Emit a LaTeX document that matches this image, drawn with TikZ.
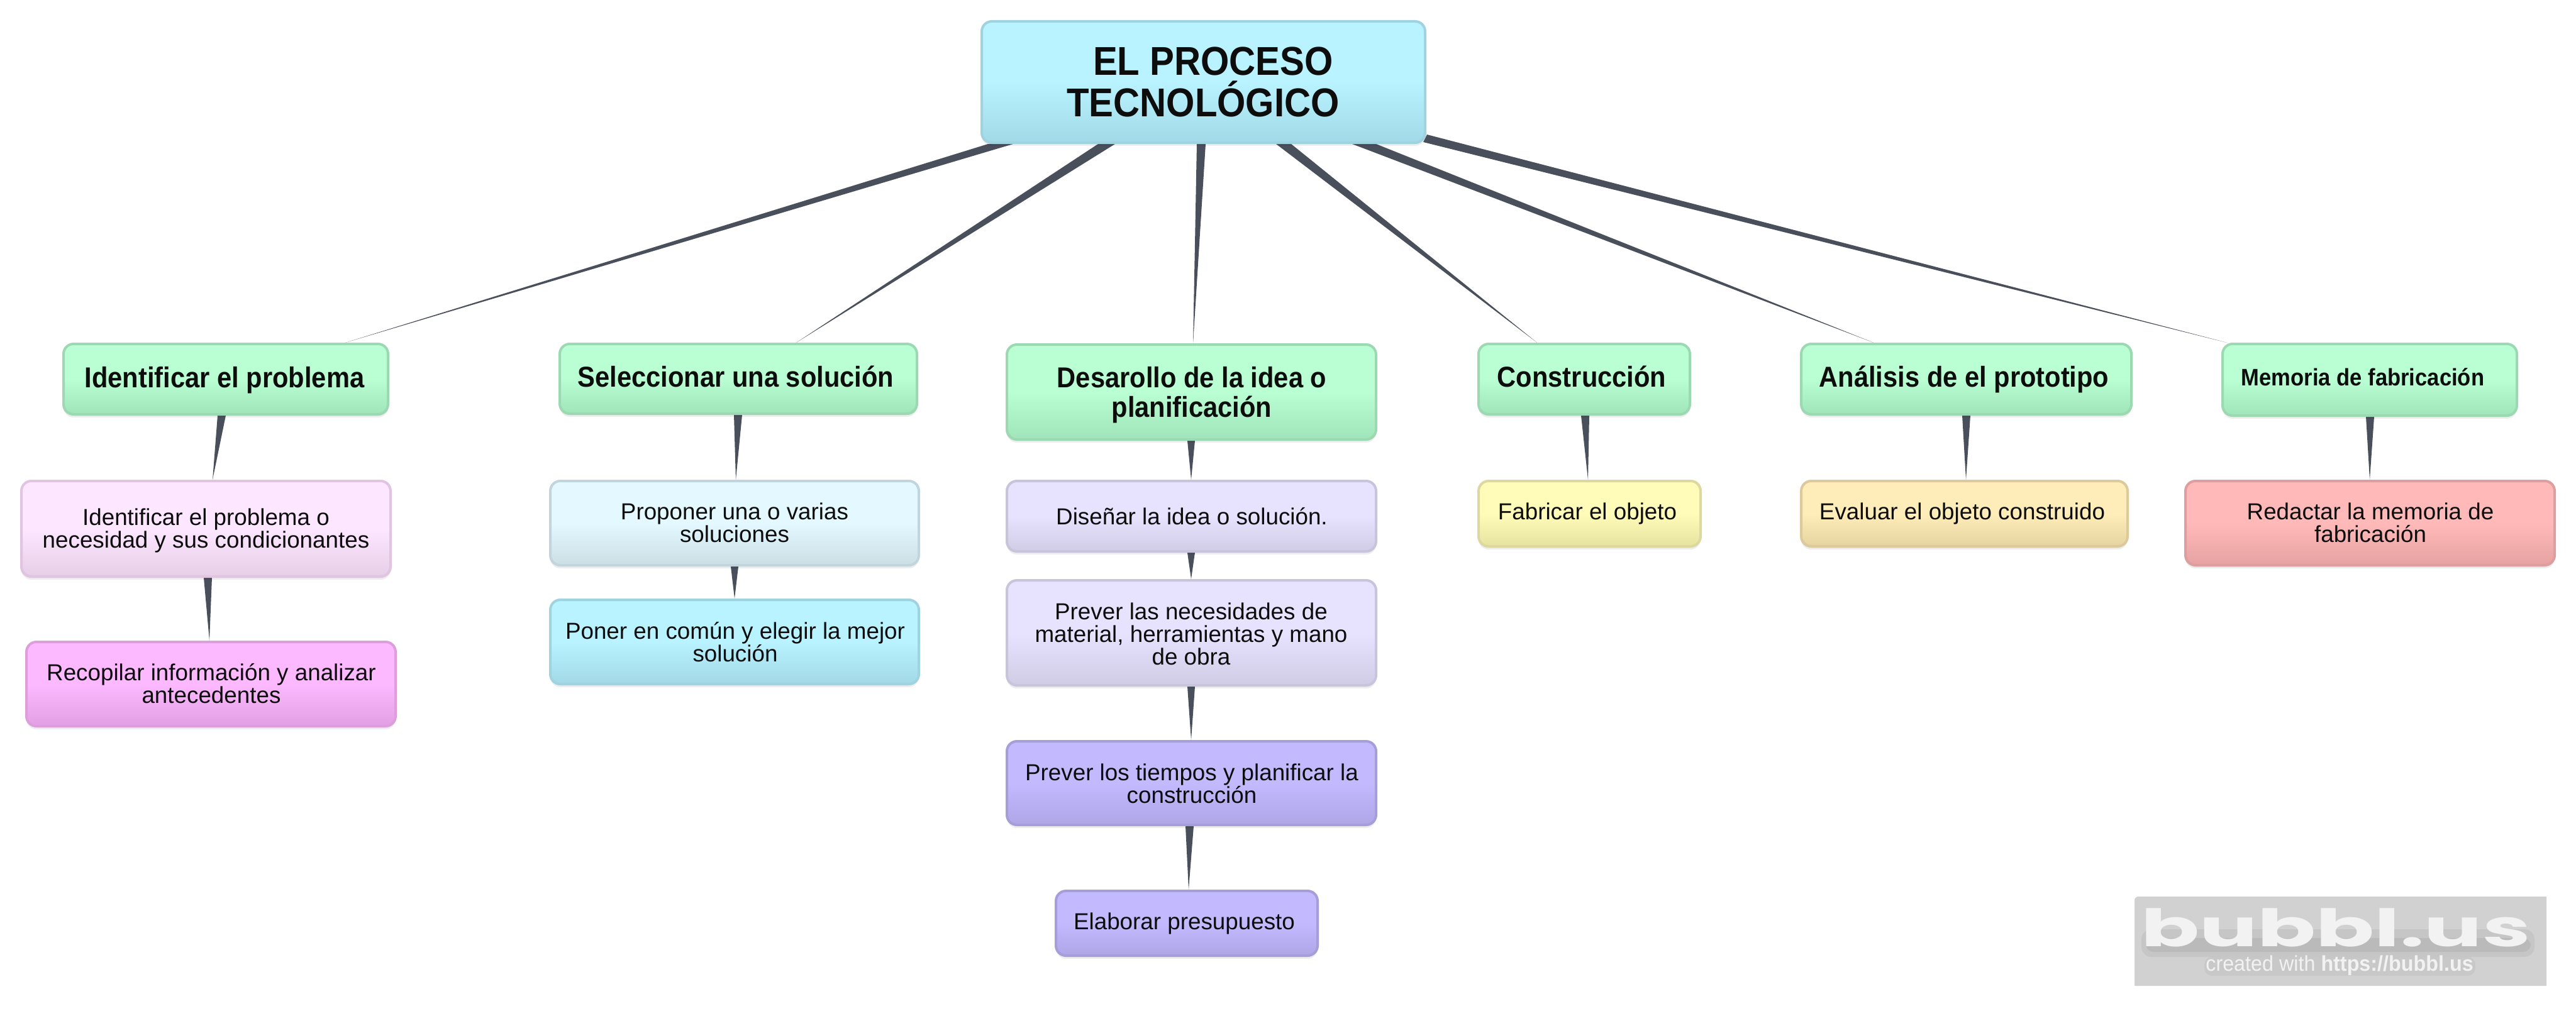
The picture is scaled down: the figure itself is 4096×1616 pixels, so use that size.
\documentclass[tikz,border=0pt]{standalone}
\usepackage{fontspec}
\usetikzlibrary{calc,shadows}
\setmainfont{Liberation Sans}
\newfontfamily\fnt{Liberation Sans}
\newfontfamily\fhead[FakeStretch=0.91]{Liberation Sans}
\newfontfamily\fcred[FakeStretch=0.95]{Liberation Sans}
\newfontfamily\flogo[FakeStretch=1.67]{Poppins}
\newcommand\st{\leavevmode\vrule height 30pt width 0pt\relax}
\newcommand\rt{\fhead\bfseries\fontsize{32}{33}\selectfont\lineskiplimit=-100pt}
\newcommand\hd{\fhead\bfseries\fontsize{22.9}{23.5}\selectfont\lineskiplimit=-100pt}
\newcommand\hs{\fhead\bfseries\fontsize{19}{20}\selectfont\lineskiplimit=-100pt}
\newcommand\bd{\fnt\fontsize{18.4}{18}\selectfont\lineskiplimit=-100pt}
\pgfdeclarelayer{background}
\pgfsetlayers{background,main}
\definecolor{conn}{HTML}{4A4F5C}
\tikzset{
  x=0.5pt,y=-0.5pt,
  bubble/.style n args={3}{draw=#3,line width=2pt,rounded corners=8pt,
    top color=#1,bottom color=#2,middle color=#1,inner sep=0pt,
    general shadow={shadow yshift=-1pt,fill=black,opacity=.10},
    general shadow={shadow yshift=-2.5pt,fill=black,opacity=.07}},
  rootbox/.style={bubble={B9F3FF}{A2D9E7}{9FD3E0}},
  greenbox/.style={bubble={B9FFD3}{A0E4B9}{9CD9B2}},
  lpink/.style={bubble={FDE6FF}{E6CEE7}{E0C4E0}},
  dpink/.style={bubble={FDB9FF}{E29FE3}{DC9FDC}},
  lcyan/.style={bubble={E3F9FF}{CBDFE5}{C0D5DC}},
  lavender/.style={bubble={E7E3FF}{D0CCE5}{C8C4DC}},
  purple/.style={bubble={C2B9FF}{AEA6E6}{A69ED9}},
  yellowbox/.style={bubble={FFFBB9}{E6E29F}{DCD8A0}},
  orangebox/.style={bubble={FEECB9}{E5D3A0}{DCC99C}},
  redbox/.style={bubble={FFB9B9}{E6A2A2}{DC9E9E}},
  txt/.style={align=center,inner sep=0pt,outer sep=0pt,anchor=north,text=black!95},
  wedgefill/.style={fill=conn,draw=none}
}
\definecolor{B9F3FF}{HTML}{B9F3FF}\definecolor{A2D9E7}{HTML}{A2D9E7}\definecolor{9FD3E0}{HTML}{9FD3E0}
\definecolor{B9FFD3}{HTML}{B9FFD3}\definecolor{A0E4B9}{HTML}{A0E4B9}\definecolor{9CD9B2}{HTML}{9CD9B2}
\definecolor{FDE6FF}{HTML}{FDE6FF}\definecolor{E6CEE7}{HTML}{E6CEE7}\definecolor{E0C4E0}{HTML}{E0C4E0}
\definecolor{FDB9FF}{HTML}{FDB9FF}\definecolor{E29FE3}{HTML}{E29FE3}\definecolor{DC9FDC}{HTML}{DC9FDC}
\definecolor{E3F9FF}{HTML}{E3F9FF}\definecolor{CBDFE5}{HTML}{CBDFE5}\definecolor{C0D5DC}{HTML}{C0D5DC}
\definecolor{E7E3FF}{HTML}{E7E3FF}\definecolor{D0CCE5}{HTML}{D0CCE5}\definecolor{C8C4DC}{HTML}{C8C4DC}
\definecolor{C2B9FF}{HTML}{C2B9FF}\definecolor{AEA6E6}{HTML}{AEA6E6}\definecolor{A69ED9}{HTML}{A69ED9}
\definecolor{FFFBB9}{HTML}{FFFBB9}\definecolor{E6E29F}{HTML}{E6E29F}\definecolor{DCD8A0}{HTML}{DCD8A0}
\definecolor{FEECB9}{HTML}{FEECB9}\definecolor{E5D3A0}{HTML}{E5D3A0}\definecolor{DCC99C}{HTML}{DCC99C}
\definecolor{FFB9B9}{HTML}{FFB9B9}\definecolor{E6A2A2}{HTML}{E6A2A2}\definecolor{DC9E9E}{HTML}{DC9E9E}
% box: name, x1,y1,x2,y2, style, text x, first baseline, font; then the text
\newcommand\bx[9]{%
  \node[#6,minimum width={(#4-#2-4)*0.5pt},minimum height={(#5-#3-4)*0.5pt}] (#1) at ({(#2+#4)/2},{(#3+#5)/2}) {};
  \def\tmpx{#7}\def\tmpb{#8}\def\tmpf{#9}\bxt{#1}}
\newcommand\bxt[2]{\node[txt,font=\tmpf] (#1-t) at (\tmpx,{\tmpb-60}) {\st #2};}
% wedge: from, top offsets a b, to, tip offset
\newcommand\wedgec[5]{\fill[wedgefill] ($(#1.south)+(#2,0)$) -- ($(#1.south)+(#3,0)$) -- ($(#4.north)+(#5,0)$) -- cycle;}
\begin{document}
\begin{tikzpicture}
\useasboundingbox (0,0) rectangle (4096,1616);
\bx{root}{1559}{32}{2268}{229}{rootbox}{1913}{119}{\rt}{\hspace*{16pt}EL PROCESO\\TECNOLÓGICO}
\bx{ident}{99}{545}{619}{661}{greenbox}{357}{616}{\hd}{Identificar el problema}
\bx{sel}{888}{545}{1460}{660}{greenbox}{1170}{615}{\hd}{Seleccionar una solución}
\bx{des}{1599}{546}{2190}{701}{greenbox}{1895}{616}{\hd}{Desarollo de la idea o\\planificación}
\bx{con}{2349}{545}{2689}{661}{greenbox}{2515}{615}{\hd}{Construcción}
\bx{ana}{2862}{545}{3391}{661}{greenbox}{3123}{615}{\hd}{Análisis de el prototipo}
\bx{mem}{3532}{545}{4004}{663}{greenbox}{3757}{613}{\hs}{Memoria de fabricación}
\bx{ip}{32}{763}{623}{919}{lpink}{327.5}{835}{\bd}{Identificar el problema o\\necesidad y sus condicionantes}
\bx{rec}{40}{1019}{631}{1157}{dpink}{336}{1082}{\bd}{Recopilar información y analizar\\antecedentes}
\bx{prop}{873}{763}{1463}{901}{lcyan}{1168}{826}{\bd}{Proponer una o varias\\soluciones}
\bx{pon}{873}{952}{1463}{1090}{rootbox}{1169}{1016}{\bd}{Poner en común y elegir la mejor\\solución}
\bx{dis}{1599}{763}{2190}{879}{lavender}{1895}{834}{\bd}{Diseñar la idea o solución.}
\bx{las}{1599}{921}{2190}{1092}{lavender}{1894}{985}{\bd}{Prever las necesidades de\\material, herramientas y mano\\de obra}
\bx{los}{1599}{1177}{2190}{1314}{purple}{1895}{1241}{\bd}{Prever los tiempos y planificar la\\construcción}
\bx{ela}{1677}{1415}{2097}{1522}{purple}{1883}{1478}{\bd}{Elaborar presupuesto}
\bx{fab}{2349}{763}{2706}{871}{yellowbox}{2524}{826}{\bd}{Fabricar el objeto}
\bx{eva}{2862}{763}{3385}{871}{orangebox}{3120}{826}{\bd}{Evaluar el objeto construido}
\bx{red}{3473}{763}{4064}{901}{redbox}{3769}{826}{\bd}{Redactar la memoria de\\fabricación}
\begin{pgfonlayer}{background}
\wedgec{root}{-342.5}{-302.5}{ident}{190}
\wedgec{root}{-167.5}{-140.5}{sel}{92}
\wedgec{root}{-10.5}{3.5}{des}{2.5}
\wedgec{root}{115.5}{139.5}{con}{-75}
\wedgec{root}{236.5}{274.5}{ana}{-147.5}
\fill[wedgefill] ($(root.south east)+(1,-15)$) -- ($(root.south east)+(-5,-3)$) -- ($(mem.north)+(-227,0)$) -- cycle;
\wedgec{ident}{-13}{0}{ip}{10.5}
\wedgec{ip}{-3.5}{9.5}{rec}{-2.5}
\wedgec{sel}{-7}{6}{prop}{2}
\wedgec{prop}{-6}{6}{pon}{0}
\wedgec{des}{-6.5}{5.5}{dis}{-.5}
\wedgec{dis}{-6.5}{5.5}{las}{-.5}
\wedgec{las}{-6.5}{5.5}{los}{-.5}
\wedgec{los}{-9.5}{3.5}{ela}{3}
\wedgec{con}{-5}{8}{fab}{-2.5}
\wedgec{ana}{-6.5}{6.5}{eva}{2.5}
\wedgec{mem}{-6}{7}{red}{-.5}
\end{pgfonlayer}
% watermark
\fill[fill=black!18] (3394,1568) [rounded corners=3pt] -- (3394,1426) [sharp corners] -- (4049,1426) -- (4049,1568) -- cycle;
\fill[black,opacity=.05,rounded corners=8pt] (3405,1478) rectangle (4030,1522);
\fill[black,opacity=.06,rounded corners=6pt] (3412,1492) rectangle (4024,1514);
\fill[black,opacity=.04,rounded corners=6pt] (3505,1522) rectangle (3936,1552);
\node[inner sep=0pt,anchor=base,text=black!5] (logo) at (3714,1505) {\flogo\bfseries\fontsize{41}{41}\selectfont bubbl.us};
\node[inner sep=0pt,anchor=base,text=black!5] (credit) at (3720,1544) {\fcred\fontsize{17}{17}\selectfont created with \bfseries https://bubbl.us};
\end{tikzpicture}
\end{document}
